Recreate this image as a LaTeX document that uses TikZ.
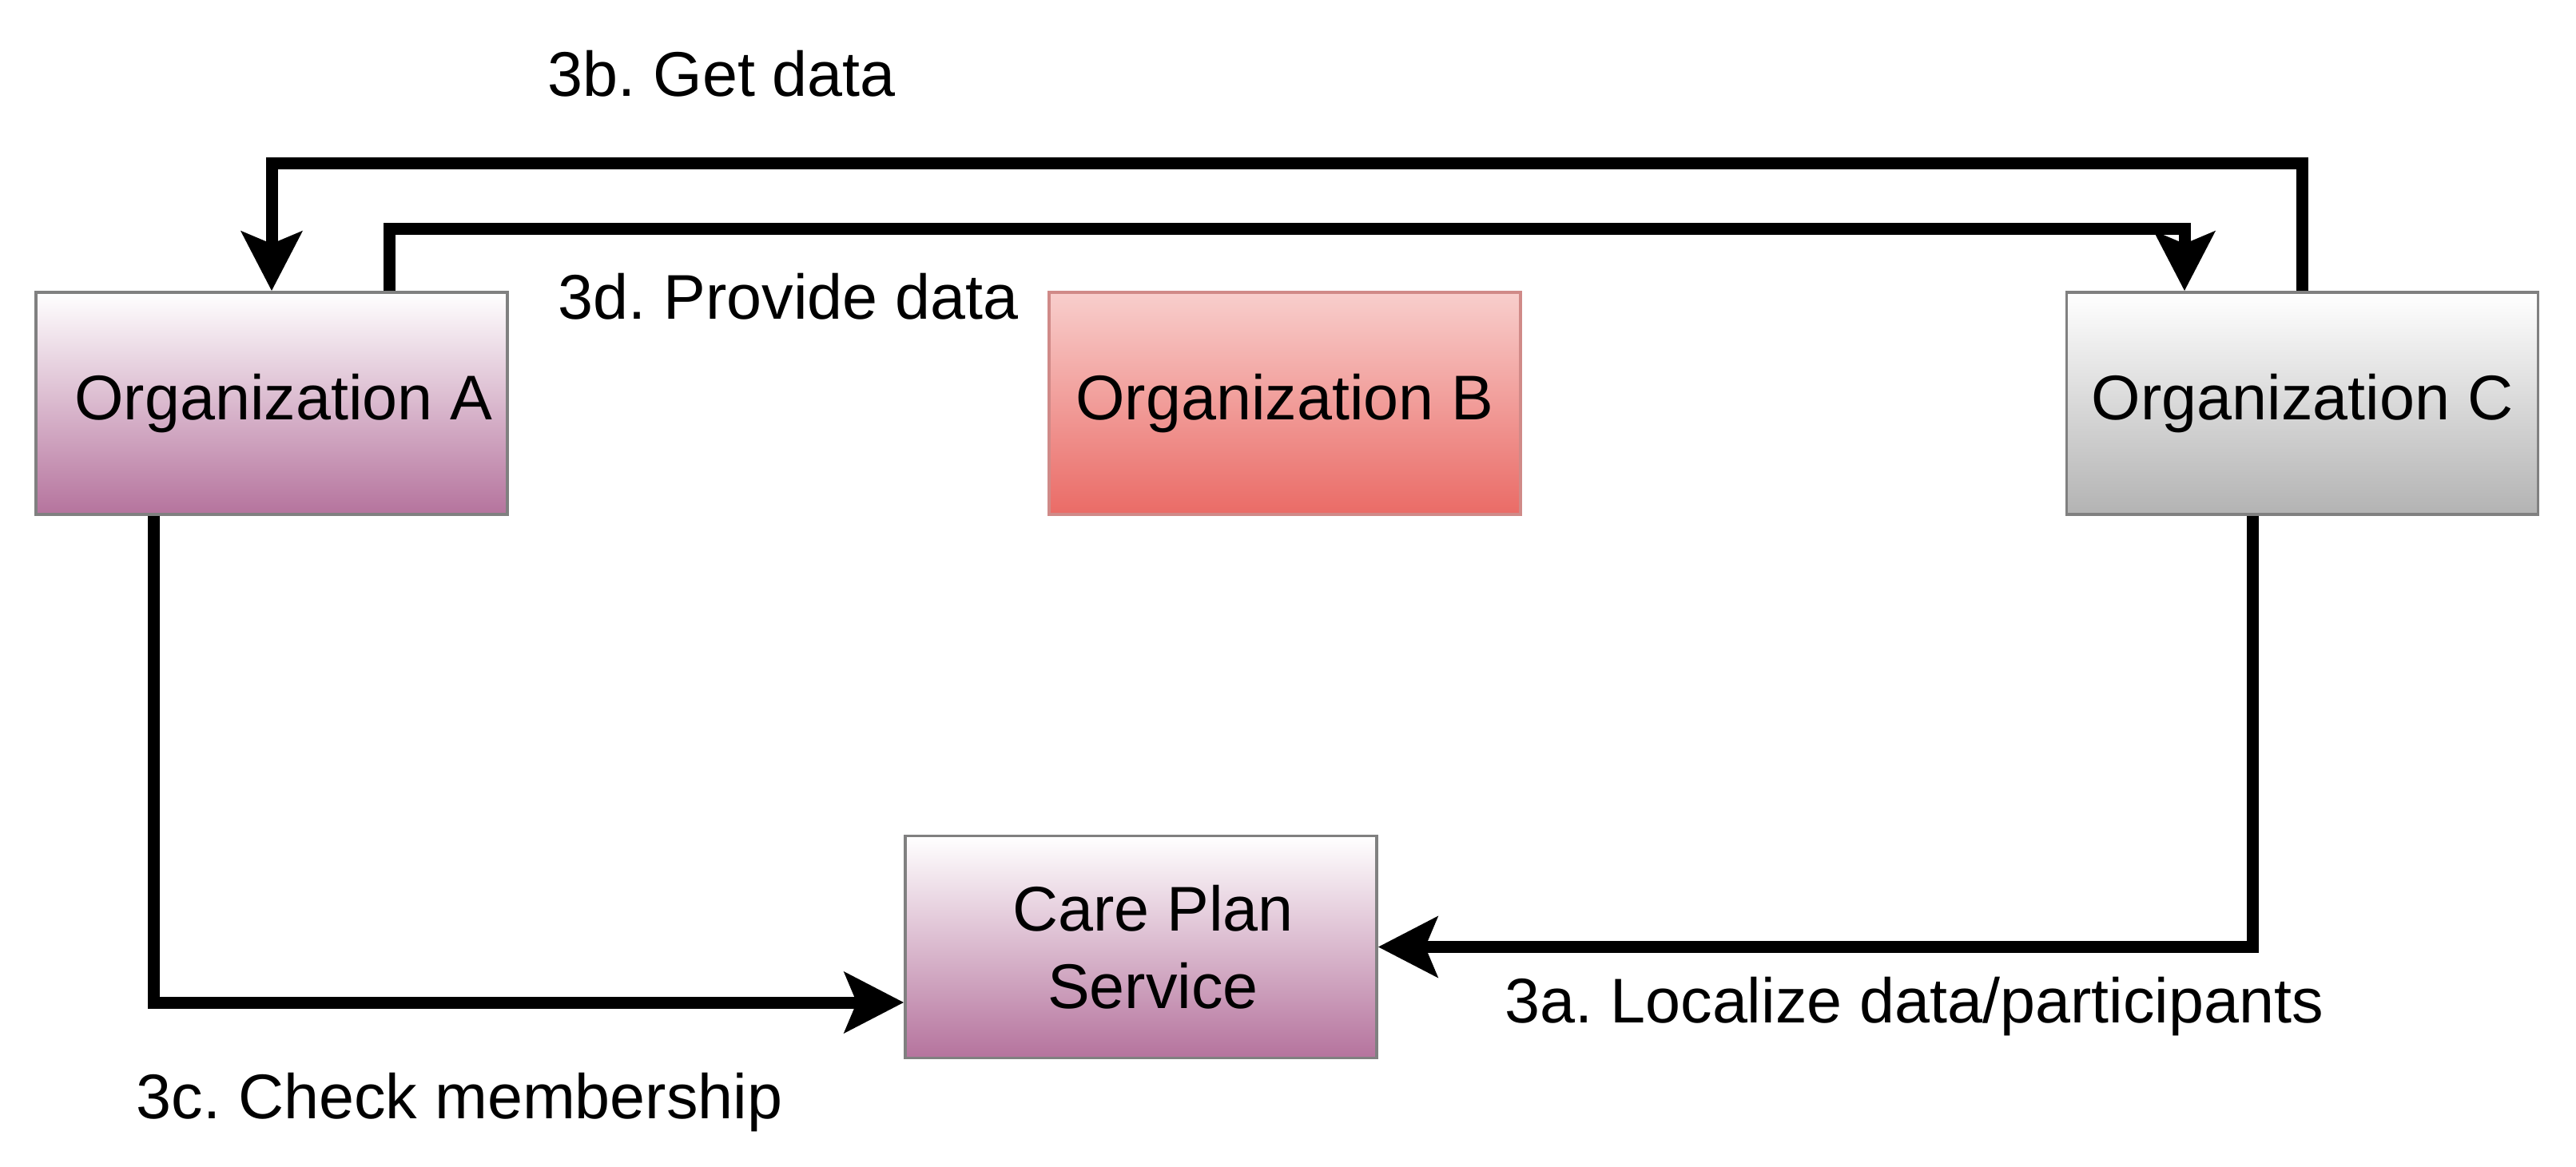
\documentclass[tikz,border=0pt]{standalone}
\usepackage{fontspec}
\setmainfont{Liberation Sans}
\usepackage{tikz}
\usetikzlibrary{arrows.meta,positioning}

\definecolor{purpleend}{HTML}{B5739D}
\definecolor{redtop}{HTML}{F8CECC}
\definecolor{redend}{HTML}{EA6B66}
\definecolor{redline}{HTML}{D08A88}
\definecolor{grayend}{HTML}{B3B3B3}
\definecolor{boxline}{HTML}{808080}

\begin{document}
\frenchspacing
\begin{tikzpicture}[
    font=\fontsize{22.5}{27.5}\selectfont,
    orgbox/.style={rectangle, draw=boxline, line width=0.035cm, align=center,
        minimum width=5.9cm, minimum height=2.78cm, inner sep=0pt},
    flow/.style={line width=0.15cm,
        -{Stealth[length=0.74cm, width=0.75cm, inset=0.15cm]}},
    steplabel/.style={anchor=base west, inner sep=0pt}
]
\useasboundingbox (0,0) rectangle (32.24,14.6);
% top row
\node[orgbox, top color=white, bottom color=purpleend] (orgA) at (3.40,9.55) {\hspace*{0.3cm}Organization A};
\node[orgbox, draw=redline, top color=redtop, bottom color=redend] (orgB) at (16.08,9.55) {Organization B};
\node[orgbox, top color=white, bottom color=grayend] (orgC) at (28.815,9.55) {Organization C};
% bottom row
\node[orgbox, top color=white, bottom color=purpleend] (care) at (14.28,2.745) {\hspace*{0.3cm}Care Plan\\\hspace*{0.3cm}Service};
% connectors
\draw[flow] (orgC.north) -- ++(0,1.60) -| (orgA.north);
\draw[flow] ([xshift=1.475cm]orgA.north) -- ++(0,0.78) -| ([xshift=-1.475cm]orgC.north);
\draw[flow] ([xshift=-1.475cm]orgA.south) |- ([yshift=-0.695cm]care.west);
\draw[flow] ([xshift=-0.62cm]orgC.south) |- (care.east);
% labels
\node[steplabel] (getdata) at (6.85,13.39) {3b. Get data};
\node[steplabel] (providedata) at (6.98,10.60) {3d. Provide data};
\node[steplabel] (localize) at (18.83,1.80) {3a. Localize data/participants};
\node[steplabel] (checkmember) at (1.70,0.60) {3c. Check membership};
\end{tikzpicture}
\end{document}
